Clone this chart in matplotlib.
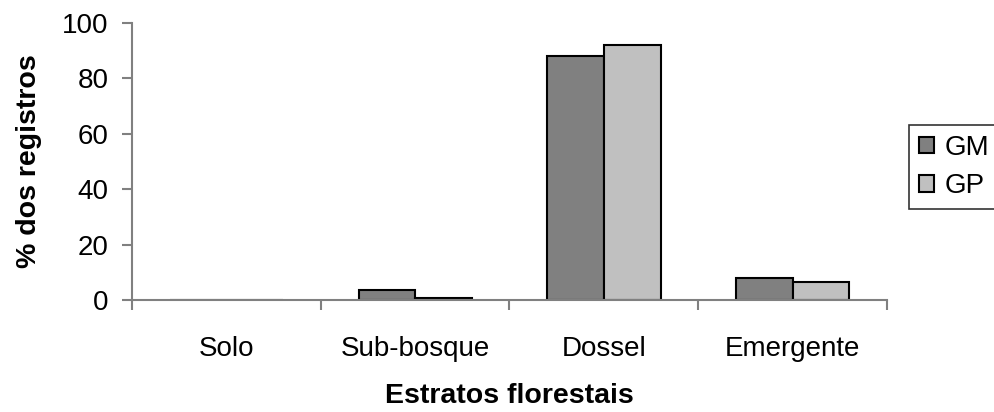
import matplotlib
matplotlib.use("Agg")
import matplotlib.pyplot as plt
import numpy as np

categories = ["Solo", "Sub-bosque", "Dossel", "Emergente"]
gm_values = [0, 3.6, 88, 7.8]
gp_values = [0, 0.8, 92, 6.4]
series_names = ["GM", "GP"]
y_ticks = [0, 20, 40, 60, 80, 100]

plt.rcParams['font.family'] = ['Liberation Sans', 'DejaVu Sans']

fig = plt.figure(figsize=(9.95, 4.12), dpi=100)
ax = fig.add_axes([132/995, (412-300)/412, (887-132)/995, (300-23)/412])

x = np.arange(len(categories))
w = 0.30
ax.bar(x - w/2, gm_values, w, color="#808080", edgecolor="black", linewidth=1.5, label=series_names[0])
ax.bar(x + w/2, gp_values, w, color="#c0c0c0", edgecolor="black", linewidth=1.5, label=series_names[1])

ax.set_xlim(-0.5, len(categories) - 0.5)
ax.set_ylim(0, 100)
ax.set_yticks(y_ticks)
ax.set_yticklabels([str(t) for t in y_ticks], fontsize=20)
ax.set_xticks(x)
ax.set_xticklabels(categories, fontsize=20)
ax.tick_params(axis='x', length=0, pad=26)
ax.set_xticks(np.arange(-0.5, len(categories)), minor=True)
ax.tick_params(axis='x', which='minor', length=7, color="#808080", width=1.5)
ax.tick_params(axis='y', length=7, color="#808080", width=1.5, direction='out', pad=10)

for s in ['top', 'right']:
    ax.spines[s].set_visible(False)
for s in ['left', 'bottom']:
    ax.spines[s].set_color("#808080")
    ax.spines[s].set_linewidth(1.5)

ax.set_ylabel("% dos registros", fontsize=20.5, fontweight='bold', labelpad=14)
ax.set_xlabel("Estratos florestais", fontsize=20.5, fontweight='bold', labelpad=15)

leg = fig.legend(loc='lower left', bbox_to_anchor=(909/995, 1 - 209/412), fontsize=20,
                 frameon=True, fancybox=False, edgecolor="black", handlelength=0.55,
                 handleheight=0.55, handletextpad=0.4, borderpad=0.35, labelspacing=0.45,
                 borderaxespad=0)
leg.get_frame().set_linewidth(1.2)

fig.savefig("out.png", dpi=100)
